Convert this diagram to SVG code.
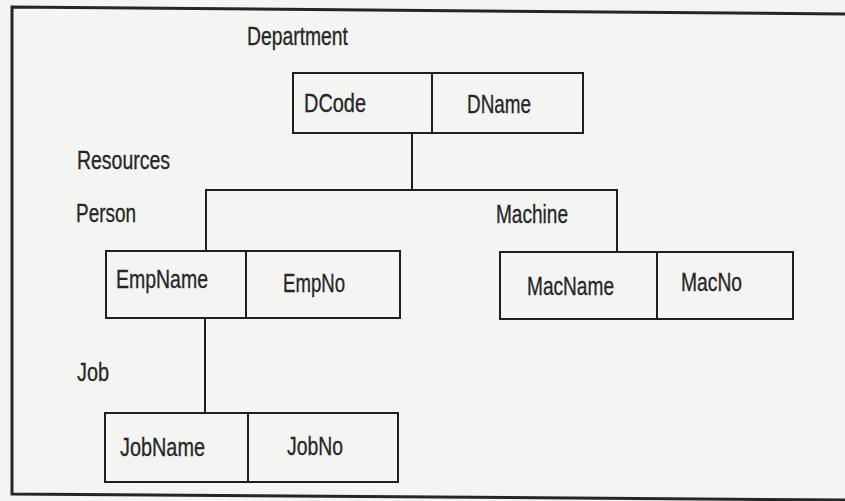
<svg xmlns="http://www.w3.org/2000/svg" width="845" height="501" viewBox="0 0 845 501">
<style>
.bg{fill:#f4f4f2}
.box{fill:none;stroke:#1e1e1e;stroke-width:2}
.ln{fill:none;stroke:#1e1e1e;stroke-width:2}
.frame{fill:none;stroke:#262626;stroke-width:3}
text{font-family:"Liberation Sans",Arial,sans-serif;font-size:25px;fill:#262626;stroke:#262626;stroke-width:0.3}
</style>
<rect class="bg" x="0" y="0" width="845" height="501"/>
<path class="frame" d="M845,14 L12,7 L12,494 L845,500"/>
<g id="connectors">
<path class="ln" d="M412,133 V190"/>
<path class="ln" d="M206,250 V190 H617 V252"/>
<path class="ln" d="M205,318 V413"/>
</g>
<g id="department">
<text x="247" y="45" textLength="101" lengthAdjust="spacingAndGlyphs">Department</text>
<rect class="box" x="293" y="73" width="290" height="60"/>
<line class="box" x1="432" y1="73" x2="432" y2="133"/>
<text x="304" y="112" textLength="62" lengthAdjust="spacingAndGlyphs">DCode</text>
<text x="467" y="113" textLength="64" lengthAdjust="spacingAndGlyphs">DName</text>
</g>
<g id="resources">
<text x="77" y="169" textLength="93" lengthAdjust="spacingAndGlyphs">Resources</text>
</g>
<g id="person">
<text x="76" y="222" textLength="60" lengthAdjust="spacingAndGlyphs">Person</text>
<rect class="box" x="106" y="251" width="294" height="67"/>
<line class="box" x1="246" y1="251" x2="246" y2="318"/>
<text x="116" y="288" textLength="92" lengthAdjust="spacingAndGlyphs">EmpName</text>
<text x="283" y="292" textLength="62" lengthAdjust="spacingAndGlyphs">EmpNo</text>
</g>
<g id="machine">
<text x="496" y="223" textLength="72" lengthAdjust="spacingAndGlyphs">Machine</text>
<rect class="box" x="500" y="252" width="293" height="67"/>
<line class="box" x1="657" y1="252" x2="657" y2="319"/>
<text x="527" y="295" textLength="87" lengthAdjust="spacingAndGlyphs">MacName</text>
<text x="681" y="291" textLength="61" lengthAdjust="spacingAndGlyphs">MacNo</text>
</g>
<g id="job">
<text x="77" y="381" textLength="32" lengthAdjust="spacingAndGlyphs">Job</text>
<rect class="box" x="105" y="413" width="293" height="69"/>
<line class="box" x1="248" y1="413" x2="248" y2="482"/>
<text x="120" y="456" textLength="85" lengthAdjust="spacingAndGlyphs">JobName</text>
<text x="287" y="455" textLength="56" lengthAdjust="spacingAndGlyphs">JobNo</text>
</g>
</svg>
